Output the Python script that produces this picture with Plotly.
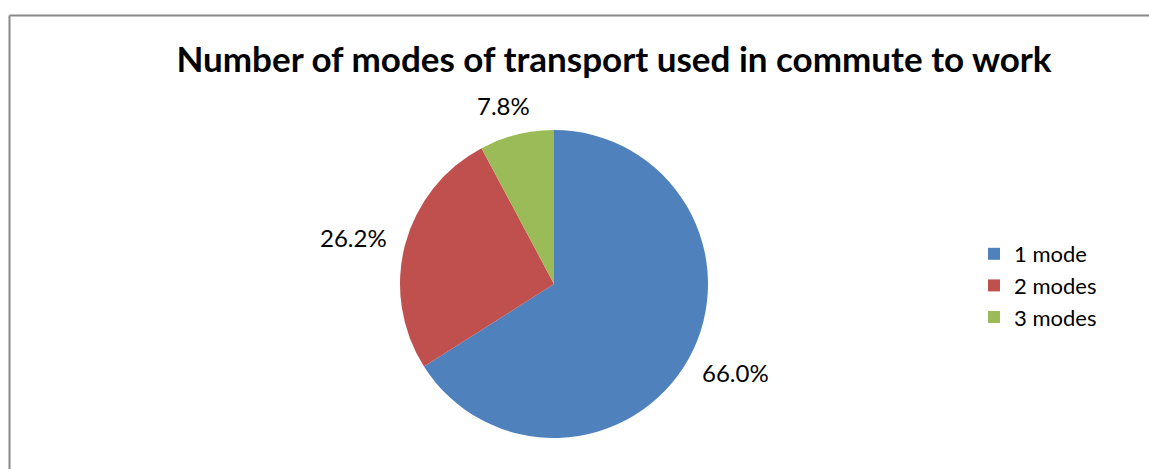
import math
import plotly.graph_objects as go

# Share of commuters by number of transport modes used
categories = ["1 mode", "2 modes", "3 modes"]
shares = [66.0, 26.2, 7.8]
colors = ["#4F81BD", "#C0504D", "#9BBB59"]

W, H = 1149, 469
cx, cy, r = 554, 284, 154
label_font = dict(family="Lato", size=24, color="#000000")

fig = go.Figure(
    go.Pie(
        labels=categories,
        values=shares,
        sort=False,
        direction="clockwise",
        rotation=0,
        marker=dict(colors=colors, line=dict(width=0)),
        textinfo="none",
        hoverinfo="label+percent",
        domain=dict(
            x=[(cx - r) / W, (cx + r) / W],
            y=[1 - (cy + r) / H, 1 - (cy - r) / H],
        ),
    )
)

# Outside-end data labels, placed along each slice's mid angle
total = sum(shares)
annotations = []
start = 0.0
half_w, half_h = 35, 12
for val in shares:
    mid = (start + val / 2) / total * 2 * math.pi
    start += val
    dx, dy = math.sin(mid), -math.cos(mid)
    px = cx + dx * (r + 18) + dx * half_w
    py = cy + dy * (r + 18) + dy * half_h
    annotations.append(dict(
        text=f"{val:.1f}%",
        x=px / W, y=1 - py / H,
        xref="paper", yref="paper",
        xanchor="center", yanchor="middle",
        showarrow=False,
        font=label_font,
    ))

fig.update_layout(
    width=W,
    height=H,
    margin=dict(l=0, r=0, t=0, b=0),
    paper_bgcolor="#FFFFFF",
    plot_bgcolor="#FFFFFF",
    title=dict(
        text="<b>Number of modes of transport used in commute to work</b>",
        x=614 / W,
        xanchor="center",
        y=1 - 60 / H,
        yanchor="middle",
        font=dict(family="Lato", size=35, color="#000000"),
    ),
    legend=dict(
        x=974 / W,
        y=1 - 233 / H,
        xanchor="left",
        yanchor="top",
        font=dict(family="Lato", size=22, color="#000000"),
        itemwidth=30,
        tracegroupgap=0,
    ),
    annotations=annotations,
    shapes=[
        dict(type="line", xref="paper", yref="paper",
             x0=9.5 / W, x1=9.5 / W, y0=0, y1=1 - 15.5 / H,
             line=dict(color="#888888", width=2)),
        dict(type="line", xref="paper", yref="paper",
             x0=9.5 / W, x1=1, y0=1 - 15.5 / H, y1=1 - 15.5 / H,
             line=dict(color="#888888", width=2)),
    ],
)

fig.write_html("out.html")
